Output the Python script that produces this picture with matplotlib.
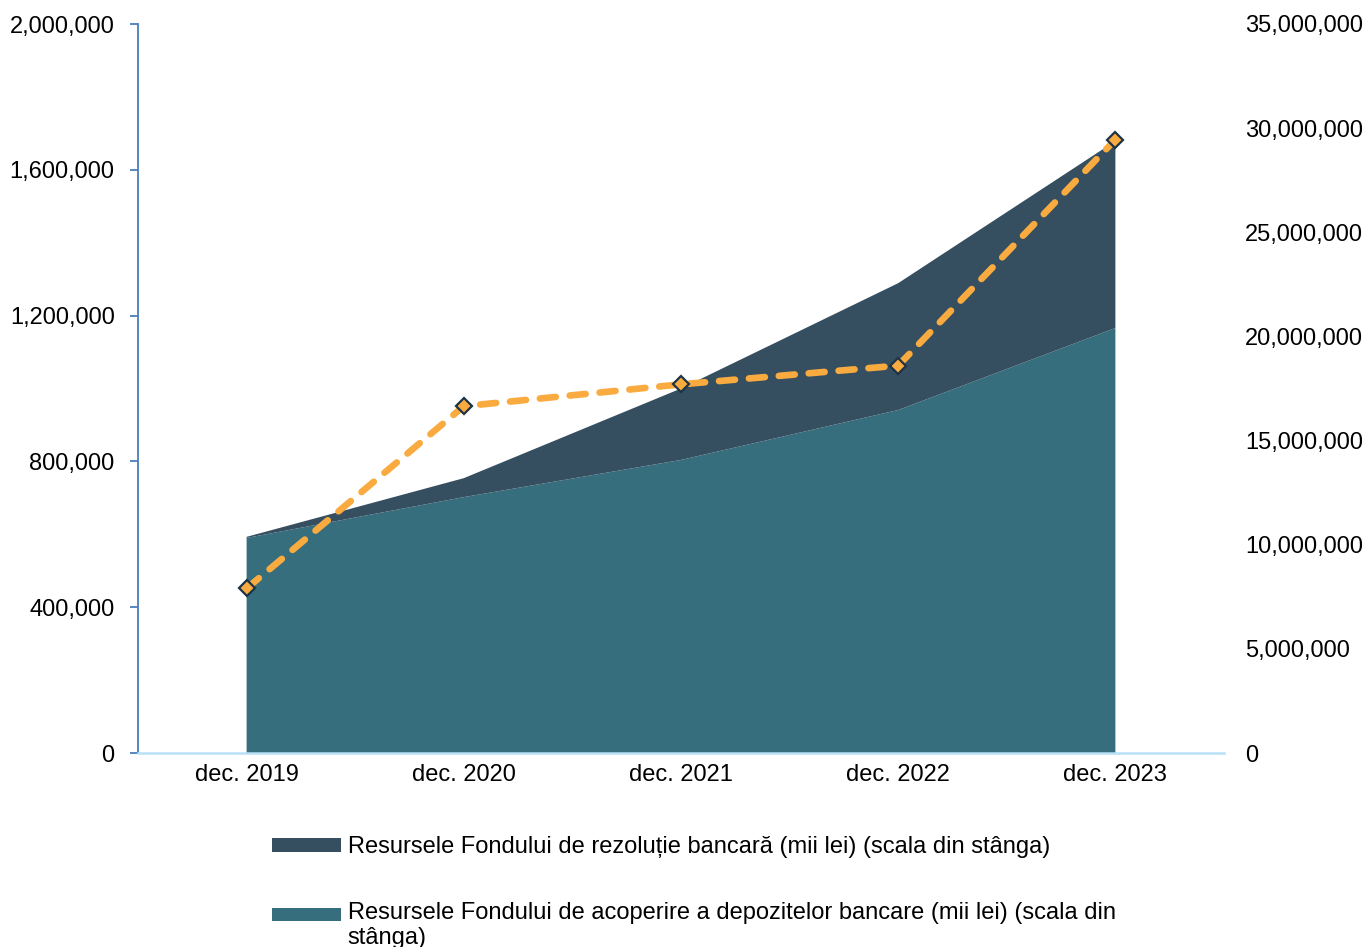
import numpy as np
import matplotlib.pyplot as plt
from matplotlib.patches import Patch, Rectangle
from matplotlib.legend_handler import HandlerPatch
from matplotlib.ticker import FuncFormatter

plt.rcParams['font.family'] = ['Liberation Sans', 'DejaVu Sans']

# data
categories = ['dec. 2019', 'dec. 2020', 'dec. 2021', 'dec. 2022', 'dec. 2023']
fgdb = [590000, 702000, 804000, 941000, 1166000]      # fondul de acoperire a depozitelor
ffrb = [3000, 52000, 196000, 348000, 513000]          # fondul de rezolutie bancara
line_vals = [7900000, 16650000, 17700000, 18600000, 29450000]  # scala din dreapta

label_ffrb = 'Resursele Fondului de rezoluție bancară (mii lei) (scala din stânga)'
label_fgdb = ('Resursele Fondului de acoperire a depozitelor bancare (mii lei) (scala din\n'
              'stânga)')

col_dark = '#354E60'
col_teal = '#366E7D'
col_line = '#F9AB3F'

fig = plt.figure(figsize=(13.66, 9.47), dpi=100)
ax = fig.add_axes([138/1366, 1 - 753/947, (1224 - 138)/1366, (753 - 24)/947])

x = np.arange(len(categories))
ax.stackplot(x, fgdb, ffrb, colors=[col_teal, col_dark], linewidth=0)
ax.set_xlim(-0.5, len(categories) - 0.5)
ax.set_ylim(0, 2000000)
ax.set_yticks(np.arange(0, 2000001, 400000))
fmt = FuncFormatter(lambda v, p: f'{int(v):,}')
ax.yaxis.set_major_formatter(fmt)
ax.set_xticks(x)
ax.set_xticklabels(categories)

ax.spines['top'].set_visible(False)
ax.spines['right'].set_visible(False)
ax.spines['left'].set_color('#4A7EBB')
ax.spines['left'].set_linewidth(1.3)
ax.spines['bottom'].set_color('#B8E0F8')
ax.spines['bottom'].set_linewidth(1.8)
ax.tick_params(axis='y', direction='out', length=6, width=1.3, color='#4A7EBB',
               labelsize=17, pad=10.8)
ax.tick_params(axis='x', length=0, labelsize=17, pad=8)

ax2 = ax.twinx()
ax2.plot(x, line_vals, color=col_line, linewidth=4.8, dashes=(2.4, 2.1),
         dash_capstyle='round', marker='D', markersize=8, markerfacecolor=col_line,
         markeredgecolor='#1C3448', markeredgewidth=1.6)
ax2.set_ylim(0, 35000000)
ax2.set_yticks(np.arange(0, 35000001, 5000000))
ax2.yaxis.set_major_formatter(fmt)
for s in ['top', 'right', 'left', 'bottom']:
    ax2.spines[s].set_visible(False)
ax2.tick_params(axis='y', length=0, labelsize=17, pad=15)


# legend patch for the two-line label sits next to the first line
def upper_patch(legend, orig_handle, xdescent, ydescent, width, height, fontsize):
    return Rectangle((-xdescent, -ydescent + 0.47 * fontsize), width, height)


handles = [Patch(facecolor=col_dark), Patch(facecolor=col_teal)]
fig.legend(handles, [label_ffrb, label_fgdb], loc='upper left',
           bbox_to_anchor=(251/1366, 1 - 815/947), frameon=False, fontsize=17,
           handlelength=2.9, handleheight=0.5, handletextpad=0.3, labelspacing=1.85,
           handler_map={handles[1]: HandlerPatch(patch_func=upper_patch)})

fig.savefig('out.png', dpi=100)
